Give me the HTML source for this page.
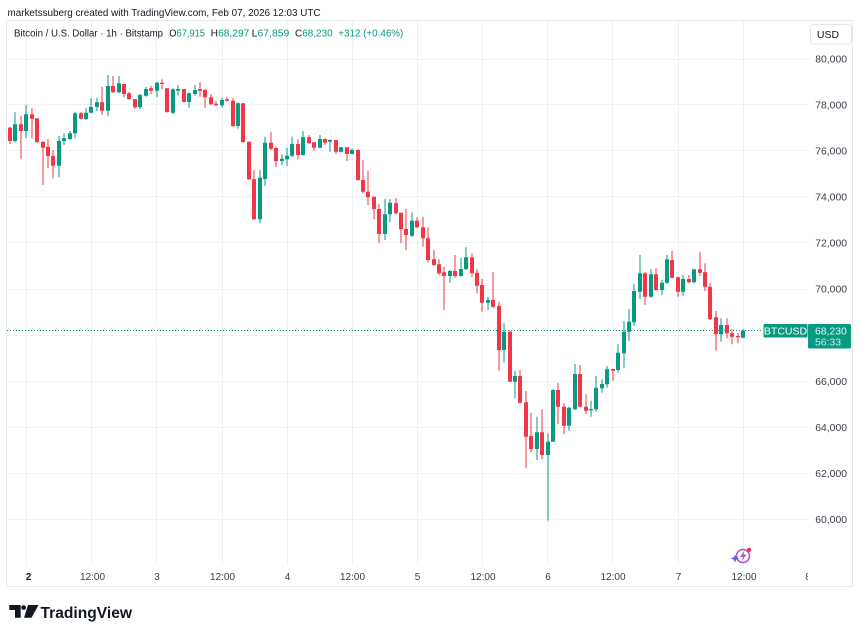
<!DOCTYPE html>
<html><head><meta charset="utf-8">
<style>
html,body{margin:0;padding:0;background:#fff;}
svg{display:block;}
text{font-family:"Liberation Sans",Arial,sans-serif;}
</style></head><body>
<svg width="862" height="634" viewBox="0 0 862 634" xmlns="http://www.w3.org/2000/svg">
<rect width="862" height="634" fill="#fff"/>
<text x="7.5" y="16" font-size="10" fill="#131722" textLength="313" lengthAdjust="spacingAndGlyphs">marketssuberg created with TradingView.com, Feb 07, 2026 12:03 UTC</text>
<rect x="6.5" y="20.5" width="846" height="566" fill="none" stroke="#e6e8ec" stroke-width="1"/>
<g stroke="#f0f1f4" stroke-width="1">
<path d="M7 59.5H808M7 104.5H808M7 150.5H808M7 196.5H808M7 242.5H808M7 289.5H808M7 335.5H808M7 381.5H808M7 427.5H808M7 473.5H808M7 519.5H808"/>
<path d="M26.5 21V565M91.5 21V565M156.5 21V565M222.5 21V565M287.5 21V565M352.5 21V565M417.5 21V565M482.5 21V565M547.5 21V565M612.5 21V565M678.5 21V565M743.5 21V565"/>
</g>
<text x="14" y="36.5" font-size="10" fill="#131722" textLength="149" lengthAdjust="spacingAndGlyphs">Bitcoin / U.S. Dollar · 1h · Bitstamp</text>
<text x="169.3" y="36.5" font-size="10" fill="#131722" textLength="35.7" lengthAdjust="spacingAndGlyphs">O<tspan fill="#089981">67,915</tspan></text>
<text x="210.7" y="36.5" font-size="10" fill="#131722" textLength="38.6" lengthAdjust="spacingAndGlyphs">H<tspan fill="#089981">68,297</tspan></text>
<text x="251.7" y="36.5" font-size="10" fill="#131722" textLength="37.6" lengthAdjust="spacingAndGlyphs">L<tspan fill="#089981">67,859</tspan></text>
<text x="295" y="36.5" font-size="10" fill="#131722" textLength="37.7" lengthAdjust="spacingAndGlyphs">C<tspan fill="#089981">68,230</tspan></text>
<text x="338.3" y="36.5" font-size="10" fill="#089981" textLength="65" lengthAdjust="spacingAndGlyphs">+312 (+0.46%)</text>
<rect x="810.5" y="24.5" width="41" height="19.5" rx="3" fill="#fff" stroke="#e3e5ea"/>
<text x="828" y="38" font-size="10.5" fill="#131722" text-anchor="middle">USD</text>
<g font-size="10.4" fill="#3a3e4a" text-anchor="end">
<text x="847" y="62.7">80,000</text>
<text x="847" y="108.3">78,000</text>
<text x="847" y="154.4">76,000</text>
<text x="847" y="200.5">74,000</text>
<text x="847" y="246.6">72,000</text>
<text x="847" y="292.7">70,000</text>
<text x="847" y="384.9">66,000</text>
<text x="847" y="431">64,000</text>
<text x="847" y="477.1">62,000</text>
<text x="847" y="523.2">60,000</text>
</g>
<g font-size="10" fill="#3a3e4a" text-anchor="middle">
<text x="28.5" y="580" font-weight="bold" fill="#131722">2</text>
<text x="92.5" y="580">12:00</text>
<text x="157" y="580">3</text>
<text x="222.5" y="580">12:00</text>
<text x="287.5" y="580">4</text>
<text x="352.5" y="580">12:00</text>
<text x="417.5" y="580">5</text>
<text x="483" y="580">12:00</text>
<text x="548" y="580">6</text>
<text x="613" y="580">12:00</text>
<text x="678.5" y="580">7</text>
<text x="744" y="580">12:00</text>
</g>
<svg x="805" y="565" width="3" height="20" overflow="hidden"><text x="3" y="15" font-size="10" fill="#3a3e4a" text-anchor="middle">8</text></svg>
<line x1="7" y1="330.5" x2="763" y2="330.5" stroke="#089981" stroke-width="1" stroke-dasharray="1,2"/>
<g fill="none" stroke="#089981" stroke-width="1">
<path d="M15 112.3V142.3M26 105V138.3M59 136V177.3M64 133.3V145M70 131V140M75 111.7V138.3M86 108.3V120M91 98.3V113.3M97 97.7V111M108 75V116M119 76V93.3M140 94V109M146 86.7V96.7M157 81.7V97.3M173 88.3V114.3M178 85V95.7M189 92.3V107.7M195 85V95.7M222 97.7V107.3M238 102.3V128.7M260 170V223.3M265 136.7V186M282 154.3V165M287 147.7V166M292 136.7V157.3M303 131V155.7M320 135V148.3M330 139.3V151.7M341 147V152.5M352 148.3V154.5M385 199V240M390 199V222.3M412 212.7V236.7M450 270V282.7M461 257.7V276.7M466 247.3V270M488 296.7V310M504 323.3V362.7M515 371V398.3M537 416.7V460M548 433.3V520.7M553 389.3V441.7M569 406.7V430.7M575 364V410M591 400.7V416.7M596 376V411.7M602 379.3V392.7M607 366V387.7M618 344.3V372.7M624 321V368.3M629 309V341M634 284.3V325.7M640 255V299M651 269.3V297.7M662 280V295M667 255V284M683 275V295.7M694 269V283.3M721 318.3V341.7M743 329V338.3"/>
</g>
<g fill="none" stroke="#f23645" stroke-width="1">
<path d="M10 126.7V144M21 115.7V159.3M32 108.3V138.3M37 118.3V142.7M43 141V185M48 139.3V168.3M53 150V178.3M81 112V119.5M102 86.7V115M113 76V92.7M124 84V97.3M129 91.7V100M135 99V109M151 85.7V94M162 79.3V89.3M167 88.3V112.7M184 89V102.3M200 82.3V96.7M205 89V107.7M211 94V105M216 101V106M227 96.7V101.7M233 98.3V126.7M243 103.3V142.7M249 141.7V180M254 170V220M271 131.7V150M276 146.7V167.3M298 139.3V159.3M309 135V144M314 142.3V150.7M325 138.3V145M336 140V154M347 147.3V161M358 149.3V180.7M363 160V193.3M368 170.7V205M374 196.7V219.3M379 204.3V243.3M396 197.7V214.3M401 212.7V243.3M406 209V250M417 217.3V228.3M423 216.7V246.7M428 227.7V262.3M434 250V265.7M439 259.3V275M444 266.7V310M455 255V277.7M472 253.3V276.7M477 269V293.3M482 279V311.7M493 272.3V308.3M499 301.7V370.7M510 330.7V381.7M520 370V403.3M526 391V468.3M531 412.7V452.3M542 409.3V459.3M558 382.7V424M564 403.3V434.3M580 365V407.3M586 394.3V414M613 369V380.7M645 271.7V305M656 268.3V290.7M672 251V278.3M678 276.7V296.7M689 275V283.3M700 252.3V275.7M705 263.3V291M710 282.7V320M716 311V350.7M727 318.3V338.3M732 329.3V344.3M738 333.3V343.3"/>
</g>
<g fill="none" stroke="#089981" stroke-width="4">
<path d="M15 124.3V141M26 114.3V131M59 141V165.7M64 138.3V141M70 133.3V139M75 113.3V133.3M86 112.7V119M91 107V112.7M97 102.3V107M108 86V110.7M119 83.3V92.3M140 95V107.3M146 89V95.7M157 82.7V90.7M173 89.3V112.7M178 89V90.7M189 93.3V102M195 90V94M222 100V105.3M238 103.3V126M260 177.7V219.3M265 142.7V179M282 158.7V161M287 155.7V159.3M292 144V155.7M303 137.3V155M320 139V147.7M330 140V141.7M341 147.3V151.7M352 150V154M385 214.3V234M390 202.7V214.3M412 220.7V235.7M450 271V276M461 269V276M466 257.3V269M488 300V302.7M504 331.7V350M515 376V381.7M537 432.3V449M548 441.7V455M553 390V441.7M569 407.7V425.7M575 374V409.3M591 409V410.2M596 387.7V409.3M602 384V388.3M607 369.3V384.3M618 352.7V370M624 331.7V353.3M629 321.7V331.7M634 291V322.3M640 273.3V291.7M651 274.3V296.7M662 282.7V290M667 259.3V282.7M683 279V291.7M694 269.3V282.3M721 325V334.3M743 330.7V337.7"/>
</g>
<g fill="none" stroke="#f23645" stroke-width="4">
<path d="M10 127.7V141M21 124.3V131M32 114.3V118.7M37 118.3V142M43 142V147.7M48 146.7V156M53 156V165.7M81 113.3V118.7M102 102.3V110.7M113 86V92.3M124 84V94M129 93.3V99M135 99V107.3M151 88.3V90.7M162 82.7V84M167 88.3V112M184 89V102M200 89V90.7M205 90V97.3M211 97.3V104.3M216 103.7V105.3M227 99.3V100.7M233 100.7V126M243 103.3V142M249 141.7V179.3M254 179.3V219.3M271 142.7V148.7M276 148V161M298 144V155M309 137.3V143.3M314 142.3V147.7M325 139V142.7M336 140V151.7M347 147.3V154M358 150V180M363 180V191.7M368 191.7V197.3M374 196.7V209M379 209V234M396 203.3V213.3M401 212.7V229.3M406 229V235M417 220.7V227.3M423 227.3V238.3M428 238.3V260M434 259.3V265M439 264.3V273.3M444 272.3V276M455 271V276M472 257.3V273.3M477 272.7V285.7M482 285V302.7M493 300V306.7M499 306V350M510 331.7V381.7M520 376V402.7M526 402.3V436.7M531 436V449M542 432.3V455M558 390V406.7M564 406.7V425.7M580 374V406.7M586 406.7V410.7M613 369V370.7M645 273.3V296.7M656 274.3V290M672 260V277.7M678 277.3V291.7M689 279V282.3M700 269.3V272.7M705 272.3V286.7M710 286.7V319M716 317.3V334.3M727 325V333.3M732 333.3V336.7M738 336V337.3"/>
</g>
<rect x="763.5" y="324" width="44" height="13.5" rx="1.5" fill="#089981"/>
<text x="785.5" y="334.6" font-size="10.5" fill="#fff" text-anchor="middle">BTCUSD</text>
<rect x="808" y="324" width="43" height="24.5" rx="1.5" fill="#089981"/>
<text x="815" y="334.6" font-size="10.4" fill="#fff" fill-opacity="0.9">68,230</text>
<text x="815" y="345.6" font-size="10.4" fill="#fff" fill-opacity="0.8">56:33</text>
<circle cx="743" cy="556" r="6.5" fill="none" stroke="#a855d6" stroke-width="1.6"/>
<polygon points="744.5,550.5 740,557 743,557 741.5,561.5 746.5,554.5 743.5,554.5" fill="#a855d6"/>
<polygon points="735,554.5 736.2,557.3 739,558.5 736.2,559.7 735,562.5 733.8,559.7 731,558.5 733.8,557.3" fill="#6c5ce7"/>
<circle cx="749" cy="550" r="2.2" fill="#f23645"/>
<path d="M9.3 605H20.7V617.7H15V610H9.3Z" fill="#131722"/>
<circle cx="23.6" cy="607.6" r="2.4" fill="#131722"/>
<polygon points="28,605 38.5,605 31.5,617.7 24,617.7" fill="#131722"/>
<text x="40.5" y="618" font-size="15.5" font-weight="bold" fill="#131722" textLength="91.5" lengthAdjust="spacingAndGlyphs">TradingView</text>
</svg>
</body></html>
